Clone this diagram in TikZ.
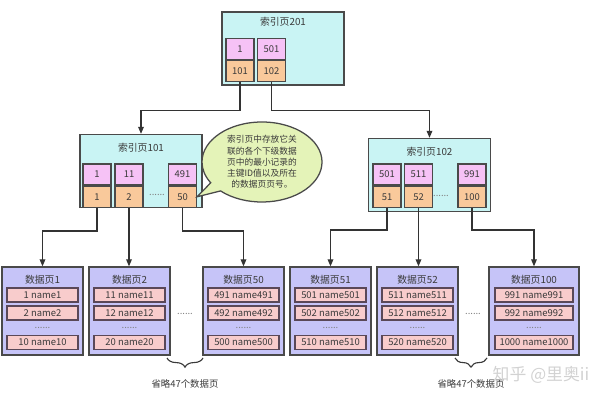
\documentclass[tikz,border=0pt]{standalone}
\usepackage{fontspec}
\setmainfont{Noto Sans CJK SC}
\usetikzlibrary{positioning,arrows.meta,shapes.callouts,decorations.pathreplacing}
\definecolor{line}{HTML}{4A4A4A}
\definecolor{txt}{HTML}{3A3A3A}
\definecolor{idxfill}{HTML}{C9F4F4}
\definecolor{keyfill}{HTML}{F6C2F6}
\definecolor{ptrfill}{HTML}{F9C99B}
\definecolor{datafill}{HTML}{C6C4F8}
\definecolor{recfill}{HTML}{F8CCCC}
\definecolor{recline}{HTML}{5A4858}
\definecolor{notefill}{HTML}{E4F3B8}
\definecolor{arrow}{HTML}{333333}

\begin{document}
\begin{tikzpicture}[x=0.025cm, y=-0.025cm, font=\fontsize{6.7}{7}\selectfont,
    ipage/.style={draw=line, fill=idxfill, line width=0.9pt, minimum width=3.05cm, minimum height=1.825cm},
    key/.style={draw=line, fill=keyfill, line width=0.9pt, minimum width=0.7cm, minimum height=0.525cm, inner sep=0pt, text=txt},
    ptr/.style={key, fill=ptrfill},
    dpage/.style={draw=line, fill=datafill, line width=0.9pt, minimum height=2.2cm},
    rec/.style={draw=recline, fill=recfill, line width=0.9pt, minimum height=0.35cm, inner sep=0pt, text=txt},
    title/.style={text=txt, font=\fontsize{7}{8}\selectfont},
    dots/.style={text=gray, inner sep=0pt},
    arr/.style={draw=arrow, line width=0.9pt, -{Triangle[length=5pt,width=4pt]}},
    brace/.style={draw=txt, line width=0.8pt, decorate, decoration={brace, amplitude=6.5pt}},
    note/.style={ellipse callout, draw=line, fill=notefill, line width=0.9pt, minimum width=3cm, minimum height=2cm, inner sep=0pt, align=center, text=txt, font=\fontsize{6.2}{8}\selectfont}]
    \useasboundingbox (0,0) rectangle (600,400);
    % index page 201
    \node[ipage] (p201) at (283,48.5) {};
    \node[title] (t201) at (283,22) {索引页201};
    \node[key] (k201a) at (240,49) {1};
    \node[ptr, below=0pt of k201a] (v201a) {101};
    \node[key] (k201b) at (271.5,49) {501};
    \node[ptr, below=0pt of k201b] (v201b) {102};
    % index page 101
    \node[ipage] (p101) at (141,171) {};
    \node[title] (t101) at (141,148) {索引页101};
    \node[key] (k101a) at (97,174.5) {1};
    \node[ptr, below=0pt of k101a] (v101a) {1};
    \node[key] (k101b) at (129,174.5) {11};
    \node[ptr, below=0pt of k101b] (v101b) {2};
    \node[dots] (o101) at (157,195) {......};
    \node[key] (k101c) at (182.5,174.5) {491};
    \node[ptr, below=0pt of k101c] (v101c) {50};
    % index page 102
    \node[ipage] (p102) at (429.5,175) {};
    \node[title] (t102) at (429.5,152) {索引页102};
    \node[key] (k102a) at (387,174.5) {501};
    \node[ptr, below=0pt of k102a] (v102a) {51};
    \node[key] (k102b) at (418.5,174.5) {511};
    \node[ptr, below=0pt of k102b] (v102b) {52};
    \node[dots] (o102) at (441,196) {......};
    \node[key] (k102c) at (472,174.5) {991};
    \node[ptr, below=0pt of k102c] (v102c) {100};
    % note
    \node[note, callout absolute pointer={(v101c.east)}] (tip) at (262,162)
        {索引页中存放它关\\联的各个下级数据\\页中的最小记录的\\主键ID值以及所在\\的数据页页号。};
    % data pages
    \foreach \n/\x/\w/\rw/\a/\b/\c in {1/42.5/2.025/1.775/1 name1/2 name2/10 name10,
        2/129.5/2.025/1.775/11 name11/12 name12/20 name20,
        50/243.5/2.025/1.775/491 name491/492 name492/500 name500,
        51/330.5/2.025/1.775/501 name501/502 name502/510 name510,
        52/417.5/2.025/1.775/511 name511/512 name512/520 name520,
        100/534/2.25/1.95/991 name991/992 name992/1000 name1000}{
        \node[dpage, minimum width=\w cm] (d\n) at (\x,311) {};
        \node[title] (d\n-t) at (\x,280) {数据页\n};
        \node[rec, minimum width=\rw cm] (d\n-a) at (\x,295) {\a};
        \node[rec, minimum width=\rw cm] (d\n-b) at (\x,313) {\b};
        \node[dots] (d\n-o) at (\x,328) {......};
        \node[rec, minimum width=\rw cm] (d\n-c) at (\x,342.5) {\c};
    }
    \node[dots] (o1) at (185,314) {......};
    \node[dots] (o2) at (473,314) {......};
    % arrows
    \path[arr](v201a.south)--++(0,28)-|(p101.north);
    \path[arr](v201b.south)--++(0,28)-|(p102.north);
    \path[arr](v101a.south)--++(0,23)-|(d1.north);
    \path[arr](v101b.south)--(v101b.south|-d2.north);
    \path[arr](v101c.south)--++(0,23)-|(d50.north);
    \path[arr](v102a.south)--++(0,22)-|(d51.north);
    \path[arr](v102b.south)--(v102b.south|-d52.north);
    \path[arr](v102c.south)--++(0,22)-|(d100.north);
    % omitted pages
    \coordinate (b1l) at (167,358);
    \coordinate (b1r) at (203,358);
    \coordinate (b2l) at (455,358);
    \coordinate (b2r) at (487,358);
    \path[brace](b1r)--(b1l);
    \path[brace](b2r)--(b2l);
    \node[text=txt] (s1) at (185,384) {省略47个数据页};
    \node[text=txt] (s2) at (471,384) {省略47个数据页};
    \node[text=gray!35, font=\fontsize{12}{13}\selectfont] (wm) at (541,375) {知乎 @里奥ii};
\end{tikzpicture}
\end{document}
